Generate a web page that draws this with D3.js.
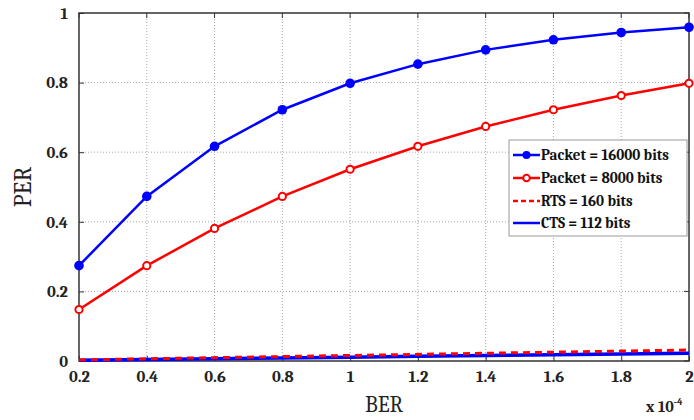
<!DOCTYPE html>
<html><head><meta charset="utf-8">
<script src="https://cdn.jsdelivr.net/npm/d3@7"></script>
<style>body{margin:0;background:#fff}svg{display:block}</style>
</head><body><svg id="c" width="694" height="420"></svg>
<script>
const ber = [0.2,0.4,0.6,0.8,1.0,1.2,1.4,1.6,1.8,2.0];
const packet16000 = [0.274,0.473,0.617,0.722,0.798,0.853,0.894,0.923,0.944,0.959];
const packet8000 = [0.148,0.274,0.381,0.473,0.551,0.617,0.674,0.722,0.763,0.798];
const rts160 = [0.0032,0.0064,0.0096,0.0127,0.0159,0.0190,0.0222,0.0253,0.0284,0.0315];
const cts112 = [0.0022,0.0045,0.0067,0.0089,0.0111,0.0133,0.0156,0.0178,0.0199,0.0222];
const xTicks = [0.2,0.4,0.6,0.8,1,1.2,1.4,1.6,1.8,2];
const yTicks = [0,0.2,0.4,0.6,0.8,1];
const legendLabels = ["Packet = 16000 bits","Packet = 8000 bits","RTS = 160 bits","CTS = 112 bits"];

const svg = d3.select("#c");
const L=79,R=689,T=13,B=361;
const x = d3.scaleLinear().domain([0.2,2]).range([L,R]);
const y = d3.scaleLinear().domain([0,1]).range([B,T]);
const font = "Cambria, 'DejaVu Serif', 'Liberation Serif', serif";

// grid
const g = svg.append("g");
g.selectAll(".gx").data(xTicks.slice(1,-1)).enter().append("line")
  .attr("x1",d=>x(d)).attr("x2",d=>x(d)).attr("y1",T).attr("y2",B)
  .attr("stroke","#a8a8a8").attr("stroke-width",1).attr("stroke-dasharray","1,2");
g.selectAll(".gy").data(yTicks.slice(1,-1)).enter().append("line")
  .attr("y1",d=>y(d)).attr("y2",d=>y(d)).attr("x1",L).attr("x2",R)
  .attr("stroke","#a8a8a8").attr("stroke-width",1).attr("stroke-dasharray","1,2");

// axes
const xAxis = svg.append("g").attr("transform",`translate(0,${B})`)
  .call(d3.axisBottom(x).tickValues(xTicks).tickSize(-5).tickPadding(9).tickFormat(d3.format("~g")));
const yAxis = svg.append("g").attr("transform",`translate(${L},0)`)
  .call(d3.axisLeft(y).tickValues(yTicks).tickSize(-5).tickPadding(11).tickFormat(d3.format("~g")));
[xAxis,yAxis].forEach(a=>{
  a.select(".domain").remove();
  a.selectAll(".tick line").attr("stroke","#333");
  a.selectAll("text").attr("font-family",font).attr("font-size",16.5).attr("font-weight","bold").attr("fill","#222");
});
// top/right ticks
svg.append("g").selectAll("line").data(xTicks).enter().append("line")
  .attr("x1",d=>x(d)).attr("x2",d=>x(d)).attr("y1",T).attr("y2",T+5).attr("stroke","#333");
svg.append("g").selectAll("line").data(yTicks).enter().append("line")
  .attr("y1",d=>y(d)).attr("y2",d=>y(d)).attr("x1",R).attr("x2",R-5).attr("stroke","#333");

// box
svg.append("rect").attr("x",L).attr("y",T).attr("width",R-L).attr("height",B-T)
  .attr("fill","none").attr("stroke","#333").attr("stroke-width",1.5);

const line = d3.line().x(d=>x(d[0])).y(d=>y(d[1]));
const zip = v => ber.map((b,i)=>[b,v[i]]);

svg.append("path").datum(zip(cts112)).attr("d",line).attr("fill","none").attr("stroke","#0000ff").attr("stroke-width",3.5);
svg.append("path").datum(zip(rts160)).attr("d",line).attr("fill","none").attr("stroke","#ff0000").attr("stroke-width",3).attr("stroke-dasharray","7,5");
svg.append("path").datum(zip(packet8000)).attr("d",line).attr("fill","none").attr("stroke","#ff0000").attr("stroke-width",2.5);
svg.append("path").datum(zip(packet16000)).attr("d",line).attr("fill","none").attr("stroke","#0000ff").attr("stroke-width",2.5);
svg.append("g").selectAll("circle").data(zip(packet8000)).enter().append("circle")
  .attr("cx",d=>x(d[0])).attr("cy",d=>y(d[1])).attr("r",3.6).attr("fill","#fff").attr("stroke","#ff0000").attr("stroke-width",2);
svg.append("g").selectAll("circle").data(zip(packet16000)).enter().append("circle")
  .attr("cx",d=>x(d[0])).attr("cy",d=>y(d[1])).attr("r",4.8).attr("fill","#0000ff");

// labels
svg.append("text").attr("x",384).attr("y",412).attr("text-anchor","middle")
  .attr("font-family",font).attr("font-size",22).attr("fill","#222").text("BER");
svg.append("text").attr("transform","translate(31,187) rotate(-90)").attr("text-anchor","middle")
  .attr("font-family",font).attr("font-size",24).attr("fill","#222").text("PER");
const ex = svg.append("text").attr("x",646).attr("y",412).attr("font-family",font).attr("font-size",16).attr("font-weight","bold").attr("fill","#222");
ex.append("tspan").text("x 10");
ex.append("tspan").attr("dy",-7).attr("font-size",10).text("-4");

// legend
const lg = svg.append("g");
lg.append("rect").attr("x",509).attr("y",140).attr("width",178).attr("height",96)
  .attr("fill","#fff").attr("stroke","#999").attr("stroke-width",1);
const rows=[155,178,201,223];
const styles=[
  {c:"#0000ff",dash:null,m:"fill"},
  {c:"#ff0000",dash:null,m:"open"},
  {c:"#ff0000",dash:"5,3",m:null},
  {c:"#0000ff",dash:null,m:null}];
styles.forEach((s,i)=>{
  const yy=rows[i];
  lg.append("line").attr("x1",513).attr("x2",540).attr("y1",yy).attr("y2",yy)
    .attr("stroke",s.c).attr("stroke-width",2.5).attr("stroke-dasharray",s.dash);
  if(s.m==="fill") lg.append("circle").attr("cx",526.5).attr("cy",yy).attr("r",4).attr("fill",s.c);
  if(s.m==="open") lg.append("circle").attr("cx",526.5).attr("cy",yy).attr("r",3.3).attr("fill","#fff").attr("stroke",s.c).attr("stroke-width",2);
  lg.append("text").attr("x",541).attr("y",yy+5).attr("font-family",font).attr("font-size",15)
    .attr("font-weight","bold").attr("fill","#111").text(legendLabels[i]);
});
</script></body></html>
